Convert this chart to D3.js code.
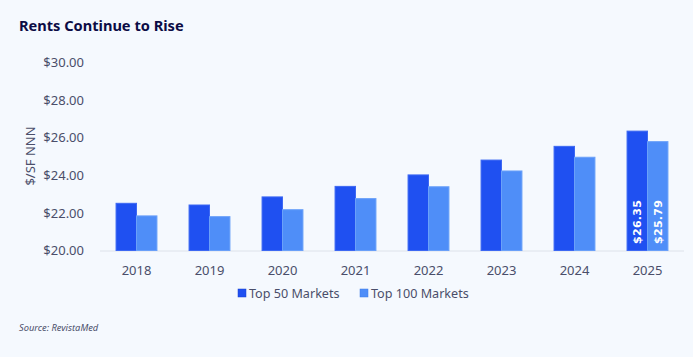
<!DOCTYPE html>
<html>
<head>
<meta charset="utf-8">
<script src="https://cdn.jsdelivr.net/npm/d3@7"></script>
<style>
html,body{margin:0;padding:0;background:#f5f9fe;}
svg{display:block;font-family:"Noto Sans","Open Sans",sans-serif;}
</style>
</head>
<body>
<svg id="chart" width="693" height="357"></svg>
<script>
const years = ["2018","2019","2020","2021","2022","2023","2024","2025"];
const seriesNames = ["Top 50 Markets","Top 100 Markets"];
const top50 = [22.51, 22.42, 22.85, 23.41, 24.02, 24.81, 25.54, 26.35];
const top100 = [21.84, 21.80, 22.17, 22.76, 23.39, 24.23, 24.96, 25.79];
const yTicks = [20, 22, 24, 26, 28, 30];
const colors = ["#1f50f1", "#4f8ef8"];
const labeledYear = "2025";

const svg = d3.select("#chart");
const margin = {left: 100, right: 684, top: 62.5, bottom: 250.5};

svg.append("rect").attr("width",693).attr("height",357).attr("fill","#f5f9fe");

const x = d3.scaleBand().domain(years).range([margin.left, margin.right]).paddingInner(0.44).paddingOuter(0.22);
const x1 = d3.scaleBand().domain(seriesNames).range([0, x.bandwidth()]);
const y = d3.scaleLinear().domain([20, 30]).range([margin.bottom, margin.top]);

svg.append("text").attr("x",19).attr("y",31).attr("fill","#0c0c45")
  .attr("font-size",14.6).attr("font-weight",700).text("Rents Continue to Rise");

// y tick labels
const yAxis = d3.axisLeft(y).tickValues(yTicks).tickSize(0).tickPadding(0).tickFormat(d => "$" + d3.format(".2f")(d));
const gy = svg.append("g").attr("transform",`translate(84,0)`).call(yAxis);
gy.select(".domain").remove();
gy.selectAll("text").attr("fill","#4a4e6a").attr("font-size",13).attr("font-family","'Noto Sans',sans-serif");

svg.append("text").attr("transform","translate(35,156) rotate(-90)").attr("text-anchor","middle")
  .attr("fill","#4a4e6a").attr("font-size",13).text("$/SF NNN");

// baseline
svg.append("line").attr("x1",margin.left).attr("x2",margin.right).attr("y1",y(20)+0.5).attr("y2",y(20)+0.5)
  .attr("stroke","#dde2ea").attr("stroke-width",1);

const data = years.map((yr,i)=>({year:yr, vals:[top50[i], top100[i]]}));
const groups = svg.append("g").selectAll("g").data(data).join("g")
  .attr("transform", d => `translate(${x(d.year)},0)`);
groups.selectAll("rect").data(d => d.vals.map((v,j)=>({v, j, year:d.year}))).join("rect")
  .attr("x", d => x1(seriesNames[d.j]))
  .attr("width", x1.bandwidth())
  .attr("y", d => y(d.v))
  .attr("height", d => y(20) - y(d.v))
  .attr("fill", d => colors[d.j])
  .attr("stroke", d => d.j===0 ? "#3d68f3" : "#6aa0f9")
  .attr("stroke-width", 1);

groups.filter(d => d.year === labeledYear).selectAll("text.val")
  .data(d => d.vals.map((v,j)=>({v,j}))).join("text")
  .attr("class","val")
  .attr("transform", d => `translate(${x1(seriesNames[d.j]) + x1.bandwidth()/2 + 4},244) rotate(-90)`)
  .attr("fill","#ffffff").attr("font-size",11).attr("font-weight",700)
  .attr("font-family","'DejaVu Sans',sans-serif").attr("letter-spacing",0.3)
  .text(d => "$" + d3.format(".2f")(d.v));

// x axis labels
const xAxis = d3.axisBottom(x).tickSize(0).tickPadding(0);
const gx = svg.append("g").attr("transform",`translate(0,275)`).call(xAxis);
gx.select(".domain").remove();
gx.selectAll("text").attr("fill","#4a4e6a").attr("font-size",13).attr("dy",0).attr("font-family","'Noto Sans',sans-serif");

// legend
const legendX = [238, 360];
const leg = svg.append("g").selectAll("g").data(seriesNames).join("g")
  .attr("transform",(d,i)=>`translate(${legendX[i]},289)`);
leg.append("rect").attr("width",8).attr("height",8).attr("fill",(d,i)=>colors[i]).attr("stroke",(d,i)=>i===0?"#1840d0":"#3d7de8").attr("stroke-width",0.5);
leg.append("text").attr("x",11).attr("y",8.5).attr("fill","#4a4e6a").attr("font-size",12.6).text(d=>d);

svg.append("text").attr("x",19).attr("y",331).attr("fill","#4a4e6a").attr("font-size",9.3)
  .attr("font-style","italic").text("Source: RevistaMed");
</script>
</body>
</html>
